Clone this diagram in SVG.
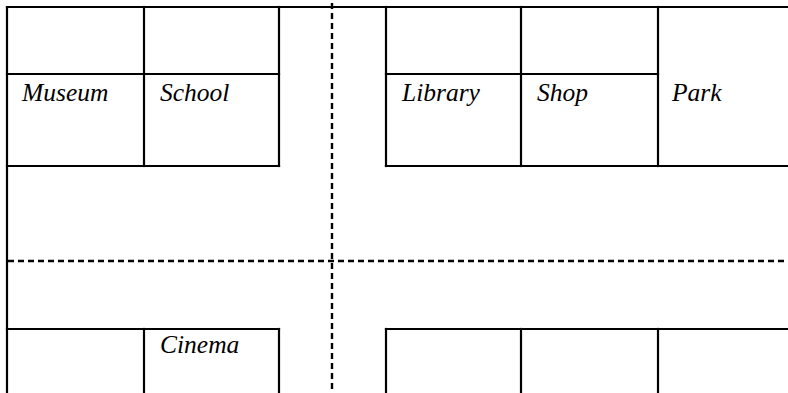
<svg xmlns="http://www.w3.org/2000/svg" width="788" height="393" viewBox="0 0 788 393">
<rect width="788" height="393" fill="#fff"/>
<g stroke="#000" stroke-width="2.2" fill="none" stroke-linecap="square">
<g id="outline">
<line x1="7" y1="7" x2="788" y2="7"/>
<line x1="7" y1="7" x2="7" y2="393"/>
</g>
<g id="museum">
<line x1="7" y1="74" x2="144" y2="74"/>
<line x1="7" y1="166" x2="144" y2="166"/>
<line x1="144" y1="7" x2="144" y2="166"/>
</g>
<g id="school">
<line x1="144" y1="74" x2="279" y2="74"/>
<line x1="144" y1="166" x2="279" y2="166"/>
<line x1="279" y1="7" x2="279" y2="166"/>
</g>
<g id="library">
<line x1="386" y1="7" x2="386" y2="166"/>
<line x1="386" y1="74" x2="521" y2="74"/>
<line x1="386" y1="166" x2="521" y2="166"/>
</g>
<g id="shop">
<line x1="521" y1="7" x2="521" y2="166"/>
<line x1="521" y1="74" x2="658" y2="74"/>
<line x1="521" y1="166" x2="658" y2="166"/>
</g>
<g id="park">
<line x1="658" y1="7" x2="658" y2="166"/>
<line x1="658" y1="166" x2="788" y2="166"/>
</g>
<g id="block-bottom-left">
<line x1="7" y1="329" x2="144" y2="329"/>
<line x1="144" y1="329" x2="144" y2="393"/>
</g>
<g id="cinema">
<line x1="144" y1="329" x2="279" y2="329"/>
<line x1="279" y1="329" x2="279" y2="393"/>
</g>
<g id="block-bottom-right">
<line x1="386" y1="329" x2="788" y2="329"/>
<line x1="386" y1="329" x2="386" y2="393"/>
<line x1="521" y1="329" x2="521" y2="393"/>
<line x1="658" y1="329" x2="658" y2="393"/>
</g>
</g>
<text x="22" y="101" font-family="Times New Roman" font-style="italic" font-size="25.5">Museum</text>
<text x="160" y="101" font-family="Times New Roman" font-style="italic" font-size="25.5">School</text>
<text x="402" y="101" font-family="Times New Roman" font-style="italic" font-size="25.5">Library</text>
<text x="537" y="101" font-family="Times New Roman" font-style="italic" font-size="25.5">Shop</text>
<text x="672" y="101" font-family="Times New Roman" font-style="italic" font-size="25.5">Park</text>
<text x="160" y="353" font-family="Times New Roman" font-style="italic" font-size="25.5">Cinema</text>
<g id="connectors" stroke="#000" stroke-width="2.4" fill="none" stroke-dasharray="6 4">
<line x1="332" y1="3" x2="332" y2="393"/>
<line x1="8" y1="261" x2="788" y2="261"/>
</g>
</svg>
